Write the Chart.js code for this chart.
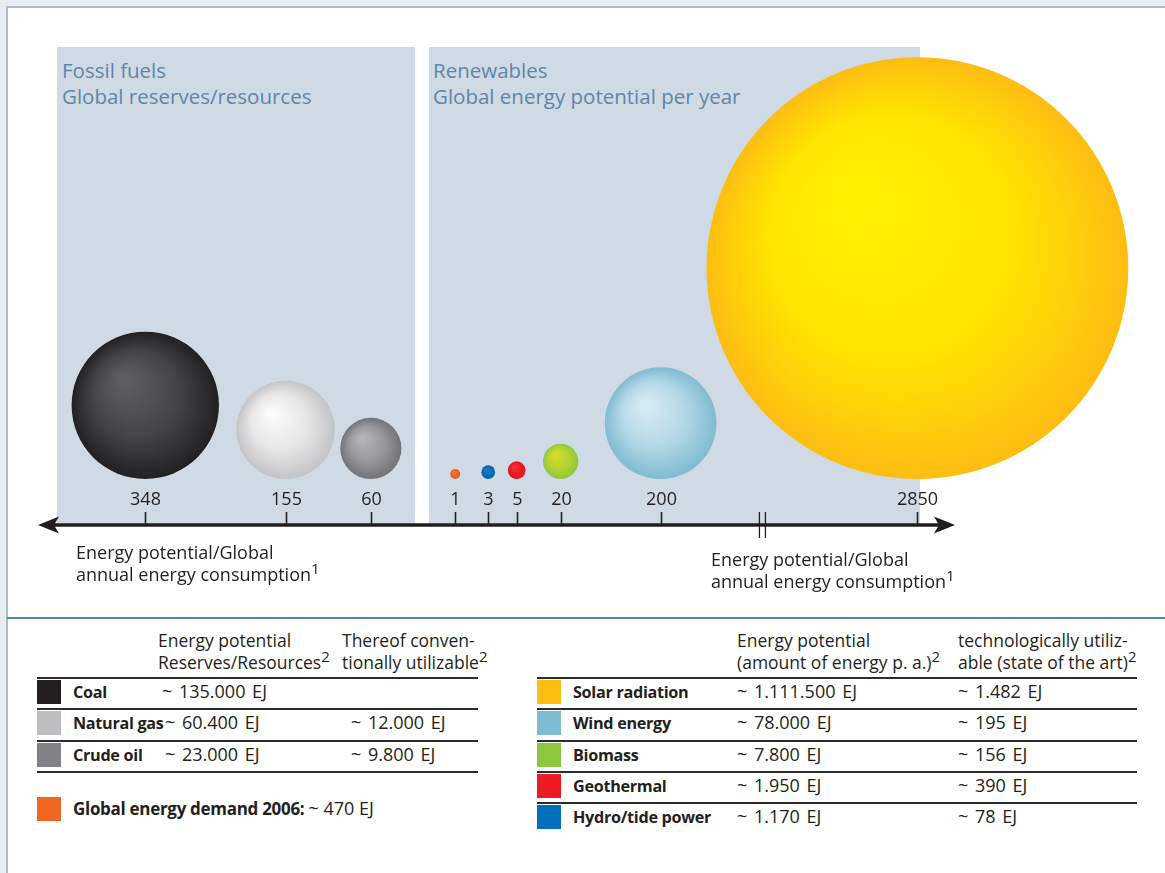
<!DOCTYPE html>
<html>
<head>
<meta charset="utf-8">
<script src="https://cdn.jsdelivr.net/npm/chart.js@4/dist/chart.umd.min.js"></script>
<style>
  html, body { margin: 0; padding: 0; }
  body {
    width: 1165px; height: 873px; overflow: hidden; position: relative;
    background: #e9eef4; font-family: "Open Sans", Lato, sans-serif; color: #231f20;
  }
  #frame {
    position: absolute; left: 6px; top: 6px; width: 1170px; height: 880px;
    background: #fff; border-left: 2px solid #a9bbcf; border-top: 2px solid #a9bbcf;
  }
  .panel { position: absolute; top: 47px; height: 478px; background: #d0dae4; }
  .panel-title { position: absolute; color: #5e86a9; font-size: 20.5px; line-height: 26px; }
  #chart { position: absolute; left: 0; top: 0; }
  .caption { position: absolute; font-size: 18px; line-height: 22px; }
  sup { font-size: 0.85em; line-height: 0; vertical-align: 0.45em; }
  #sep { position: absolute; left: 7px; right: 0; top: 617px; height: 2px; background: #5b84aa; }
  .tbl { position: absolute; font-size: 18px; }
  .tbl .head { position: absolute; line-height: 22px; white-space: nowrap; font-size: 17.5px; }
  .tbl .row { position: absolute; left: 0; height: 31px; border-top: 2px solid #2b2b2b; box-sizing: border-box; }
  .tbl .sw { position: absolute; left: 0; top: 1px; width: 24px; height: 24px; }
  .tbl .nm { position: absolute; top: 1px; font-weight: bold; font-size: 16.2px; letter-spacing: -0.3px; line-height: 25px; white-space: nowrap; }
  .tbl .v { position: absolute; top: 0px; line-height: 25px; white-space: nowrap; word-spacing: 2px; }
</style>
</head>
<body>
<div id="frame"></div>
<div class="panel" style="left:57px;width:358px"></div>
<div class="panel" style="left:429px;width:491px"></div>
<div class="panel-title" style="left:62px;top:57px">Fossil fuels<br>Global reserves/resources</div>
<div class="panel-title" style="left:433px;top:57px">Renewables<br>Global energy potential per year</div>
<canvas id="chart" width="1165" height="618"></canvas>
<div class="caption" style="left:76px;top:541px">Energy potential/Global<br>annual energy consumption<sup>1</sup></div>
<div class="caption" style="left:711px;top:548px">Energy potential/Global<br>annual energy consumption<sup>1</sup></div>
<div id="sep"></div>
<div id="tables"></div>

<script>
/* ===== DATA ===== */
const categories   = ['Coal', 'Natural gas', 'Crude oil', 'Global energy demand 2006', 'Hydro/tide power', 'Geothermal', 'Biomass', 'Wind energy', 'Solar radiation'];
const ratioValues  = [348, 155, 60, 1, 3, 5, 20, 200, 2850];   // energy potential / global annual consumption
const tickLabels   = ['348', '155', '60', '1', '3', '5', '20', '200', '2850'];
const axisPos      = [11.7, 27.0, 36.3, 45.5, 49.1, 52.2, 57.0, 67.9, 95.9]; // place on the schematic axis (0-100)
const axisBreakAt  = 79.0;

const fossilNames    = ['Coal', 'Natural gas', 'Crude oil'];
const fossilReserves = ['~ 135.000 EJ', '~ 60.400 EJ', '~ 23.000 EJ'];
const fossilUsable   = ['', '~ 12.000 EJ', '~ 9.800 EJ'];
const demandLabel    = 'Global energy demand 2006:';
const demandValue    = '~ 470 EJ';

const renewNames     = ['Solar radiation', 'Wind energy', 'Biomass', 'Geothermal', 'Hydro/tide power'];
const renewPotential = ['~ 1.111.500 EJ', '~ 78.000 EJ', '~ 7.800 EJ', '~ 1.950 EJ', '~ 1.170 EJ'];
const renewUsable    = ['~ 1.482 EJ', '~ 195 EJ', '~ 156 EJ', '~ 390 EJ', '~ 78 EJ'];

/* ===== STYLES ===== */
const SHADES = [
  ['#5e5f62', '#444548', '#212123'],   // coal
  ['#fbfbfb', '#e6e6e7', '#c3c4c6'],   // natural gas
  ['#b4b5b7', '#97989b', '#727376'],   // crude oil
  ['#f4733a', '#f26522', '#ec5a1a'],   // demand
  ['#1a7cc4', '#0a6db8', '#0862a8'],   // hydro
  ['#f4323a', '#ec1c24', '#de1820'],   // geothermal
  ['#d6df22', '#b5d431', '#8fc63e'],   // biomass
  ['#d8ebf3', '#b3d8e6', '#7fbbd1'],   // wind
  ['#fff100', '#ffe400', '#fdbd12'],   // solar
];
const FOSSIL_SW = ['#231f20', '#bcbec0', '#808285'];
const RENEW_SW  = ['#fdbe12', '#7dbcd1', '#8dc63f', '#ed1c24', '#0070bb'];
const DEMAND_SW = '#f26522';
const INK = '#231f20';

const radiusOf = (v) => Math.max(5, 3.95 * Math.sqrt(v));

function sphere(c) {
  const s = SHADES[c.dataIndex] || SHADES[0];
  if (c.type !== 'data' || !c.raw) return s[1];
  const chart = c.chart;
  if (!chart.scales.x || !chart.scales.y) return s[1];
  const cx = chart.scales.x.getPixelForValue(c.raw.x);
  const cy = chart.scales.y.getPixelForValue(c.raw.y);
  const r = c.raw.r;
  if (![cx, cy, r].every(Number.isFinite)) return s[1];
  const g = chart.ctx.createRadialGradient(cx - r * 0.3, cy - r * 0.35, r * 0.05, cx, cy, r);
  g.addColorStop(0, s[0]);
  g.addColorStop(0.55, s[1]);
  g.addColorStop(1, s[2]);
  return g;
}

/* ===== AXIS PLUGIN ===== */
const energyAxis = {
  id: 'energyAxis',
  afterDatasetsDraw(chart) {
    const { ctx, chartArea, scales: { x } } = chart;
    const yAx = chart.scales.y.getPixelForValue(-46);
    const l = chartArea.left, r = chartArea.right;
    ctx.save();
    ctx.strokeStyle = INK;
    ctx.fillStyle = INK;
    ctx.lineWidth = 3.5;
    ctx.beginPath();
    ctx.moveTo(l + 12, yAx);
    ctx.lineTo(r - 12, yAx);
    ctx.stroke();
    // arrow heads
    ctx.beginPath();
    ctx.moveTo(l, yAx); ctx.lineTo(l + 21, yAx - 8.5); ctx.lineTo(l + 16, yAx); ctx.lineTo(l + 21, yAx + 8.5);
    ctx.closePath(); ctx.fill();
    ctx.beginPath();
    ctx.moveTo(r, yAx); ctx.lineTo(r - 21, yAx - 8.5); ctx.lineTo(r - 16, yAx); ctx.lineTo(r - 21, yAx + 8.5);
    ctx.closePath(); ctx.fill();
    // ticks and labels
    ctx.lineWidth = 1.6;
    ctx.font = '18px "Open Sans", Lato, sans-serif';
    ctx.textAlign = 'center';
    ctx.textBaseline = 'middle';
    ctx.fillStyle = INK;
    axisPos.forEach((p, i) => {
      const px = Math.round(x.getPixelForValue(p)) + 0.5;
      ctx.beginPath();
      ctx.moveTo(px, yAx - 13);
      ctx.lineTo(px, yAx);
      ctx.stroke();
      ctx.fillText(tickLabels[i], px, yAx - 25);
    });
    // axis break
    const bx = x.getPixelForValue(axisBreakAt);
    ctx.lineWidth = 1.3;
    [-3, 3].forEach((d) => {
      ctx.beginPath();
      ctx.moveTo(bx + d, yAx - 13);
      ctx.lineTo(bx + d, yAx + 13);
      ctx.stroke();
    });
    ctx.restore();
  },
};

/* ===== CHART ===== */
new Chart(document.getElementById('chart'), {
  type: 'bubble',
  data: {
    labels: categories,
    datasets: [{
      data: ratioValues.map((v, i) => {
        const r = radiusOf(v);
        return { x: axisPos[i], y: r, r };
      }),
      backgroundColor: sphere,
      borderWidth: 0,
      clip: false,
    }],
  },
  options: {
    responsive: false,
    animation: false,
    events: [],
    devicePixelRatio: 1,
    layout: { autoPadding: false, padding: { left: 38, right: 210, top: 0, bottom: 0 } },
    plugins: { legend: { display: false }, tooltip: { enabled: false } },
    scales: {
      x: { type: 'linear', min: 0, max: 100, display: false },
      y: { type: 'linear', min: -139, max: 479, display: false },
    },
  },
  plugins: [energyAxis],
});

/* ===== TABLES ===== */
function buildTable(left, width, heads, names, colA, colB, swatches, nameX, aX, bX, lastLine) {
  const t = document.createElement('div');
  t.className = 'tbl';
  t.style.left = left + 'px';
  t.style.top = '0px';
  let html = '';
  html += `<div class="head" style="left:${heads[0].x}px;top:629px">${heads[0].html}</div>`;
  html += `<div class="head" style="left:${heads[1].x}px;top:629px">${heads[1].html}</div>`;
  names.forEach((n, i) => {
    const top = 677 + i * 31.3;
    const ax = Array.isArray(aX) ? aX[i] : aX;
    html += `<div class="row" style="top:${top}px;width:${width}px">
      <div class="sw" style="background:${swatches[i]}"></div>
      <div class="nm" style="left:${nameX}px">${n}</div>
      <div class="v" style="left:${ax}px">${colA[i]}</div>
      <div class="v" style="left:${bX}px">${colB[i]}</div>
    </div>`;
  });
  if (lastLine) {
    const top = 677 + names.length * 31.3;
    html += `<div class="row" style="top:${top}px;width:${width}px;height:2px"></div>`;
  }
  t.innerHTML = html;
  document.getElementById('tables').appendChild(t);
}

buildTable(37, 441,
  [{ x: 121, html: 'Energy potential<br>Reserves/Resources<sup>2</sup>' },
   { x: 305, html: 'Thereof conven-<br>tionally utilizable<sup>2</sup>' }],
  fossilNames, fossilReserves, fossilUsable, FOSSIL_SW, 36, [125, 128, 128], 314, true);

buildTable(537, 600,
  [{ x: 200, html: 'Energy potential<br>(amount of energy p. a.)<sup>2</sup>' },
   { x: 421, html: 'technologically utiliz-<br>able (state of the art)<sup>2</sup>' }],
  renewNames, renewPotential, renewUsable, RENEW_SW, 36, 200, 421, false);

const dem = document.createElement('div');
dem.className = 'tbl';
dem.style.left = '37px';
dem.style.top = '795px';
dem.innerHTML = `<div class="sw" style="background:${DEMAND_SW};top:2px"></div>
  <div class="nm" style="left:36px;font-size:17px">${demandLabel} <span style="font-weight:normal;font-size:18px;letter-spacing:0">${demandValue}</span></div>`;
document.getElementById('tables').appendChild(dem);
</script>
</body>
</html>
